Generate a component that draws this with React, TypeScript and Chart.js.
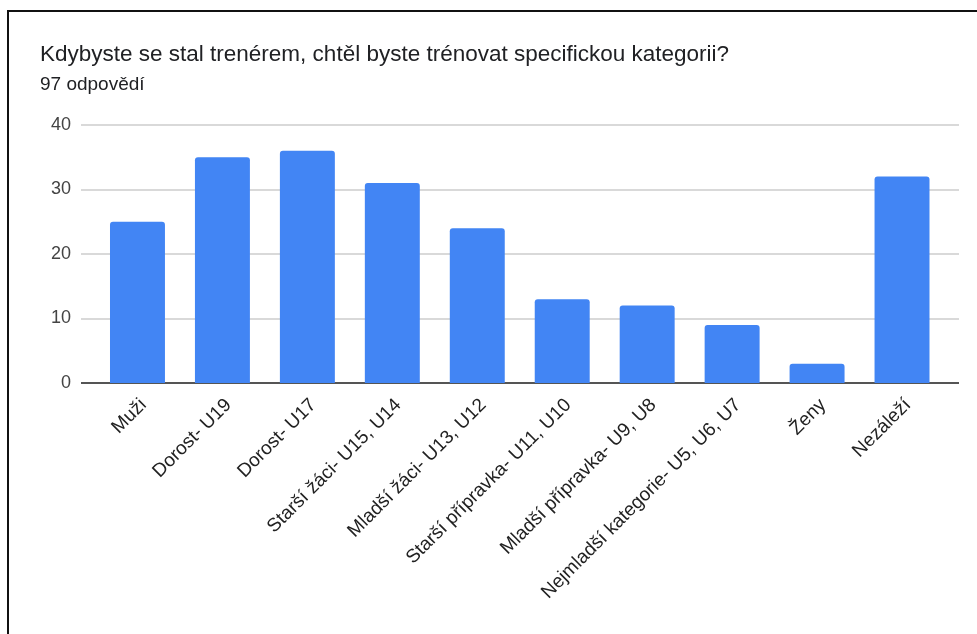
import React, { useEffect, useRef } from "react";
import { Chart, registerables } from "chart.js";

Chart.register(...registerables);

const titleText = "Kdybyste se stal trenérem, chtěl byste trénovat specifickou kategorii?";
const subtitleText = "97 odpovědí";

const categories = [
  "Muži",
  "Dorost- U19",
  "Dorost- U17",
  "Starší žáci- U15, U14",
  "Mladší žáci- U13, U12",
  "Starší přípravka- U11, U10",
  "Mladší přípravka- U9, U8",
  "Nejmladší kategorie- U5, U6, U7",
  "Ženy",
  "Nezáleží",
];
const values = [25, 35, 36, 31, 24, 13, 12, 9, 3, 32];
const yTicks = [0, 10, 20, 30, 40];

const FONT = "'Liberation Sans', Arial, Helvetica, sans-serif";

const gridPlugin = {
  id: "gfGrid",
  beforeDatasetsDraw(chart: any) {
    const { ctx, chartArea, scales } = chart;
    const y = scales.y;
    ctx.save();
    yTicks.forEach((v) => {
      const py = Math.round(y.getPixelForValue(v));
      ctx.beginPath();
      ctx.strokeStyle = v === 0 ? "#555555" : "#d9d9d9";
      ctx.lineWidth = 2;
      ctx.moveTo(chartArea.left - 14, py);
      ctx.lineTo(chartArea.right + 14.5, py);
      ctx.stroke();
    });
    ctx.restore();
  },
};

export default function App() {
  const canvasRef = useRef<HTMLCanvasElement | null>(null);

  useEffect(() => {
    if (!canvasRef.current) return;
    const chart = new Chart(canvasRef.current, {
      type: "bar",
      data: {
        labels: categories,
        datasets: [
          {
            data: values,
            backgroundColor: "#4285F4",
            borderRadius: 3,
            barPercentage: 0.647,
            categoryPercentage: 1,
          },
        ],
      },
      options: {
        animation: false,
        responsive: false,
        maintainAspectRatio: false,
        layout: { padding: { left: 50, right: 32.5, top: 125, bottom: 0 } },
        plugins: {
          legend: { display: false },
          tooltip: { enabled: false },
          title: { display: false },
        },
        scales: {
          x: {
            grid: { display: false },
            border: { display: false },
            ticks: {
              autoSkip: false,
              maxRotation: 45,
              minRotation: 45,
              color: "#222222",
              padding: 3,
              labelOffset: 6,
              font: { family: FONT, size: 19 },
            },
            afterFit: (s: any) => {
              s.height = 251;
            },
          },
          y: {
            min: 0,
            max: 40,
            grid: { display: false, drawTicks: false },
            border: { display: false },
            ticks: {
              stepSize: 10,
              color: "#444444",
              padding: 24,
              font: { family: FONT, size: 18 },
            },
            afterFit: (s: any) => {
              s.width = 45;
            },
          },
        },
      },
      plugins: [gridPlugin],
    });
    return () => chart.destroy();
  }, []);

  return (
    <div>
      <div
        style={{
          position: "fixed",
          left: 7,
          top: 10,
          width: 1000,
          height: 700,
          borderTop: "2px solid #111",
          borderLeft: "2px solid #111",
          boxSizing: "border-box",
        }}
      />
      <canvas
        ref={canvasRef}
        width={977}
        height={634}
        style={{ position: "fixed", left: 0, top: 0, width: 977, height: 634 }}
      />
      <div
        style={{
          position: "fixed",
          left: 40,
          top: 43,
          fontFamily: FONT,
          fontSize: 22.5,
          lineHeight: "22px",
          color: "#202124",
          whiteSpace: "nowrap",
        }}
      >
        {titleText}
      </div>
      <div
        style={{
          position: "fixed",
          left: 40,
          top: 75,
          fontFamily: FONT,
          fontSize: 19,
          lineHeight: "18px",
          color: "#202124",
          whiteSpace: "nowrap",
        }}
      >
        {subtitleText}
      </div>
    </div>
  );
}
